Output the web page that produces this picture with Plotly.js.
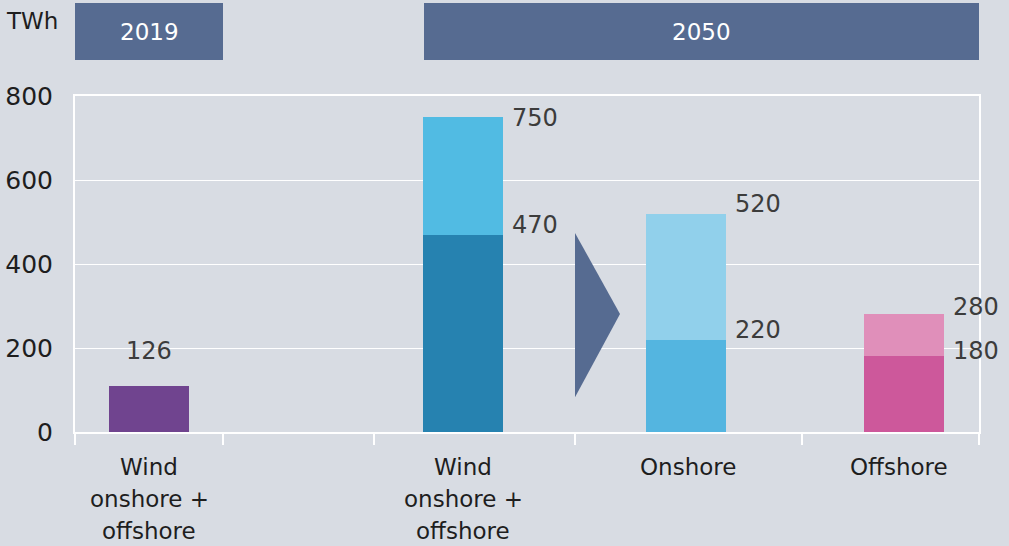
<!DOCTYPE html>
<html>
<head>
<meta charset="utf-8">
<script src="https://cdn.plot.ly/plotly-3.0.1.min.js"></script>
<style>html,body{margin:0;padding:0;background:#d8dce3;}#chart{width:1009px;height:546px;}</style>
</head>
<body>
<div id="chart"></div>
<script>
// ---- data ----
const categories = ["Wind<br>onshore +<br>offshore", "Wind<br>onshore +<br>offshore", "Onshore", "Offshore"];
const totalValues = [110, 750, 520, 280];
const lowerValues = [110, 470, 220, 180];
const totalLabels = ["126", "750", "520", "280"];
const lowerLabels = ["", "470", "220", "180"];
const yTicks = [0, 200, 400, 600, 800];
const periodLabels = ["2019", "2050"];
const unitLabel = "TWh";

// ---- layout / style ----
const xPos = [149, 463, 686, 904];
const xBounds = [75, 223, 374, 575, 802, 979];
const barWidth = 80;
const lowerColors = ["#70448f", "#2682b0", "#54b5e0", "#cd589b"];
const upperColors = ["#70448f", "#51bbe3", "#91d0eb", "#e08fba"];
const headerColor = "#566b91";
const FONT = "DejaVu Sans";

const upperValues = totalValues.map((t, i) => t - lowerValues[i]);

const traces = [
  {type: "bar", x: xPos, y: lowerValues, width: barWidth,
   marker: {color: lowerColors, line: {width: 0}}, hoverinfo: "skip"},
  {type: "bar", x: xPos, y: upperValues, width: barWidth,
   marker: {color: upperColors, line: {width: 0}}, hoverinfo: "skip"}
];

const annotations = [];
const VAL_FONT = {family: FONT, size: 24, color: "#3c3c3c"};
// value labels
const totalShift = [0, -1, 10, 7];
const lowerShift = [0, 10, 10, 5];
totalLabels.forEach((t, i) => {
  if (i === 0) {
    annotations.push({x: xPos[i], y: totalValues[i], xref: "x", yref: "y", text: t,
      showarrow: false, xanchor: "center", yanchor: "bottom", yshift: 19, font: VAL_FONT});
  } else {
    annotations.push({x: xPos[i] + barWidth / 2, y: totalValues[i], xref: "x", yref: "y", text: t,
      showarrow: false, xanchor: "left", yanchor: "middle", xshift: 7, yshift: totalShift[i], font: VAL_FONT});
  }
});
lowerLabels.forEach((t, i) => {
  if (!t) return;
  annotations.push({x: xPos[i] + barWidth / 2, y: lowerValues[i], xref: "x", yref: "y", text: t,
    showarrow: false, xanchor: "left", yanchor: "middle", xshift: 7, yshift: lowerShift[i], font: VAL_FONT});
});
// category labels (one annotation per line for exact spacing)
const catX = [149, 463, 688, 899];
categories.forEach((c, i) => {
  c.split("<br>").forEach((line, j) => {
    annotations.push({x: catX[i], y: 0, xref: "x", yref: "y", text: line, showarrow: false,
      xanchor: "center", yanchor: "middle", yshift: -35 - 32 * j,
      font: {family: FONT, size: 23, color: "#1e1e1e"}});
  });
});
// headers
const pyPix = p => (432 - p) / 336;
annotations.push({x: 149, y: pyPix(32), xref: "x", yref: "paper", text: periodLabels[0], showarrow: false,
  xanchor: "center", yanchor: "middle", font: {family: FONT, size: 23, color: "#ffffff"}});
annotations.push({x: 701.5, y: pyPix(32), xref: "x", yref: "paper", text: periodLabels[1], showarrow: false,
  xanchor: "center", yanchor: "middle", font: {family: FONT, size: 23, color: "#ffffff"}});
annotations.push({x: (4 - 75) / 904, y: pyPix(21), xref: "paper", yref: "paper", text: unitLabel, showarrow: false,
  xanchor: "left", yanchor: "middle", font: {family: FONT, size: 23, color: "#1e1e1e"}});

const shapes = [
  {type: "rect", xref: "x", yref: "paper", x0: 75, x1: 223, y0: pyPix(60), y1: pyPix(3),
   fillcolor: headerColor, line: {width: 0}, layer: "below"},
  {type: "rect", xref: "x", yref: "paper", x0: 424, x1: 979, y0: pyPix(60), y1: pyPix(3),
   fillcolor: headerColor, line: {width: 0}, layer: "below"},
  {type: "path", xref: "x", yref: "y", path: "M575,474 L620,281 L575,83 Z",
   fillcolor: headerColor, line: {width: 0}, layer: "above"}
];

const layout = {
  width: 1009, height: 546,
  margin: {l: 75, r: 30, t: 96, b: 114, pad: 0},
  paper_bgcolor: "#d8dce3", plot_bgcolor: "#d8dce3",
  barmode: "stack", showlegend: false,
  font: {family: FONT, size: 23, color: "#1e1e1e"},
  xaxis: {range: [75, 979], tickmode: "array", tickvals: xBounds, showticklabels: false,
    ticks: "outside", ticklen: 11, tickwidth: 2, tickcolor: "#ffffff",
    showgrid: false, zeroline: false, showline: true, linecolor: "#ffffff", linewidth: 2, mirror: true,
    fixedrange: true},
  yaxis: {range: [0, 800], tickmode: "array", tickvals: yTicks, ticks: "", ticklabelstandoff: 15,
    showgrid: true, gridcolor: "#ffffff", gridwidth: 1, zeroline: false,
    showline: true, linecolor: "#ffffff", linewidth: 2, mirror: true,
    tickfont: {family: FONT, size: 25, color: "#1e1e1e"}, fixedrange: true},
  annotations: annotations,
  shapes: shapes
};

Plotly.newPlot("chart", traces, layout, {displayModeBar: false, staticPlot: true});
</script>
</body>
</html>
